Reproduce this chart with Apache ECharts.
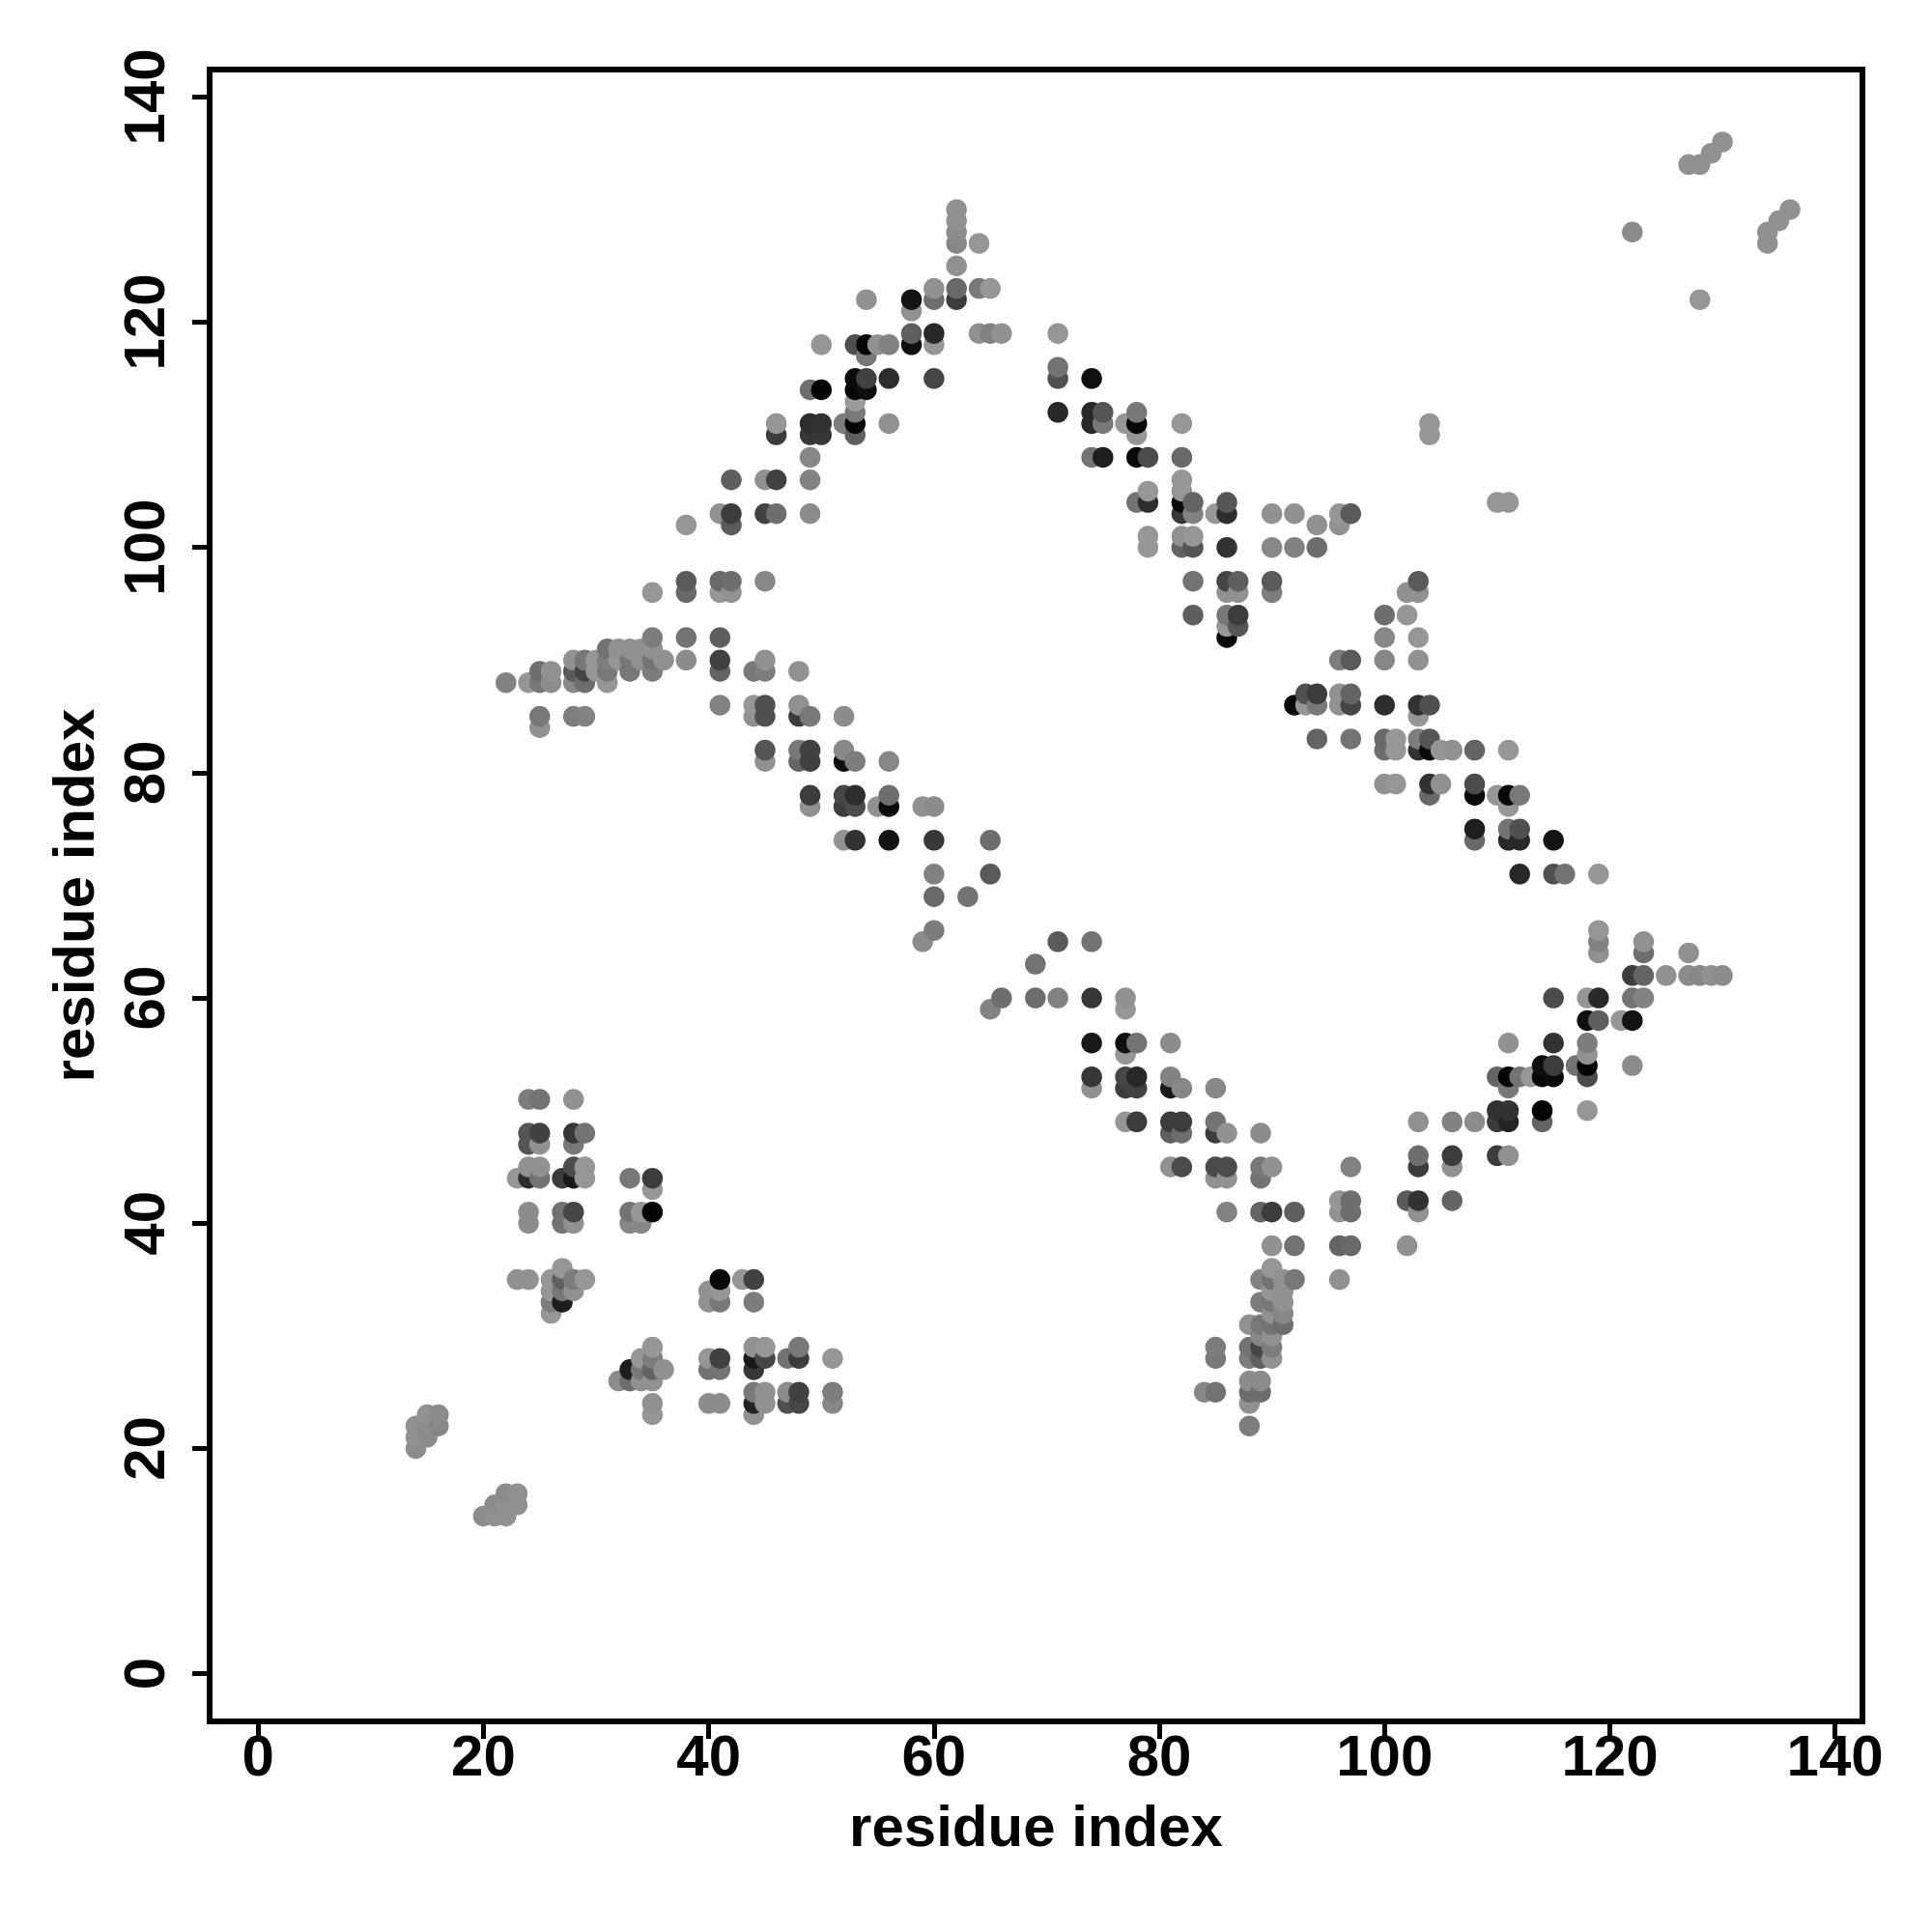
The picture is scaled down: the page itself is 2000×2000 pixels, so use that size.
<!DOCTYPE html>
<html>
<head>
<meta charset="utf-8">
<style>html,body{margin:0;padding:0;background:#fff}#chart{width:2000px;height:2000px}</style>
<script src="https://cdn.jsdelivr.net/npm/echarts@6/dist/echarts.min.js"></script>
</head>
<body>
<div id="chart"></div>
<script>
// Each contact: [residue x, residue y, grey level]
const tickValues = [0, 20, 40, 60, 80, 100, 120, 140];
const axisTitle = 'residue index';

const bottomLeftContacts = [
  [14,20,140],[14,21,145],[14,22,145],[15,21,140],[15,22,140],[15,23,145],[16,22,135],[16,23,140],
  [20,14,140],[21,14,145],[21,15,140],[22,14,145],[22,15,145],[22,16,140],[23,15,145],[23,16,145]
];
const crossContactsA = [
  [23,35,145],[24,35,145],[26,35,150],[26,34,150],[26,33,125],[26,32,150],[27,36,150],[27,35,95],[27,34,120],[27,33,30],[28,35,125],[28,34,145],[29,35,150],
  [32,26,140],[33,27,30],[33,26,110],[34,28,150],[34,27,120],[34,26,145],[35,29,150],[35,28,125],[35,27,100],[35,26,145],[35,24,145],[35,23,150],[36,27,145],
  [40,34,145],[40,33,145],[40,28,150],[40,27,115],[40,24,140],[41,35,8],[41,34,150],[41,33,120],[41,28,65],[41,27,115],[41,24,140],
  [43,35,150],[44,35,65],[44,33,125],[44,29,145],[44,28,25],[44,27,55],[44,25,120],[44,24,35],[44,23,145],[45,29,150],[45,28,70],[45,25,145],[45,24,145],
  [47,28,115],[47,25,140],[47,24,80],[48,29,120],[48,28,60],[48,25,65],[48,24,70],[51,28,150],[51,25,125],[51,24,135]
];
const crossContactsB = [
  [23,44,150],[24,51,125],[24,48,85],[24,47,85],[24,45,145],[24,44,45],[24,41,140],[24,40,140],
  [25,51,115],[25,48,65],[25,47,145],[25,45,145],[25,44,115],
  [27,44,60],[27,41,115],[27,40,115],[28,51,145],[28,48,55],[28,47,120],[28,45,75],[28,44,25],[28,41,70],[28,40,145],[29,48,115],[29,45,150],[29,44,150],
  [33,44,120],[33,41,115],[33,40,135],[34,41,150],[34,40,135],[35,44,60],[35,43,150],[35,41,5]
];
const sheetContactsLeft = [
  [22,88,130],[24,88,150],[25,89,110],[25,88,120],[25,85,120],[25,84,145],[26,89,145],[26,88,140],
  [28,90,145],[28,89,90],[28,88,135],[28,85,125],[29,90,120],[29,89,70],[29,88,110],[29,85,130],
  [30,90,150],[30,89,150],[31,91,115],[31,90,125],[31,89,120],[31,88,150],[32,91,145],[32,90,150],
  [33,91,145],[33,90,120],[33,89,120],[34,91,145],[34,90,145],[35,96,150],[35,92,125],[35,91,145],[35,90,115],[35,89,125],[36,90,145],
  [38,92,115],[38,90,140],[41,92,95],[41,90,65],[41,89,100],[41,86,130],
  [44,89,120],[44,86,150],[44,85,145],[45,90,145],[45,89,125],[45,86,80],[45,85,80],[45,82,85],[45,81,145],
  [48,89,145],[48,86,145],[48,85,60],[48,82,120],[48,81,100],[49,85,120],[49,82,65],[49,81,65],[49,78,60],[49,77,145],
  [52,85,140],[52,82,135],[52,81,15],[52,78,70],[52,77,60],[52,74,145],[53,81,125],[53,78,45],[53,77,75],[53,74,50],
  [55,77,145],[56,81,135],[56,78,110],[56,77,10],[56,74,20],[59,77,145],[59,65,140],
  [60,77,140],[60,74,55],[60,71,130],[60,69,105],[60,66,125],[63,69,115],[65,74,110],[65,71,90]
];
const sheetContactsTop = [
  [38,102,150],[38,97,90],[38,96,105],[41,103,145],[41,97,105],[41,96,150],[42,106,95],[42,103,60],[42,102,90],[42,97,110],[42,96,145],
  [45,106,145],[45,103,65],[45,97,135],[46,111,150],[46,110,60],[46,106,65],[46,103,110],
  [49,114,110],[49,111,45],[49,110,55],[49,108,135],[49,106,130],[49,103,140],[50,118,150],[50,114,5],[50,111,50],[50,110,55],[52,111,125],
  [53,118,80],[53,115,10],[53,114,5],[53,113,155],[53,112,120],[53,111,5],[53,110,95],
  [54,122,145],[54,118,5],[54,117,120],[54,115,65],[54,114,15],[55,118,145],[56,118,130],[56,115,45],[56,111,145],
  [58,122,20],[58,121,145],[58,119,95],[58,118,15],[60,123,145],[60,122,110],[60,119,40],[60,118,150],[60,115,70],
  [62,130,145],[62,129,145],[62,128,140],[62,127,135],[62,125,145],[62,123,105],[62,122,60],
  [64,127,150],[64,123,120],[64,119,145],[65,123,150],[65,119,130],[66,119,145]
];
const sheetContactsUpperRight = [
  [71,119,150],[71,116,115],[71,115,80],[71,112,40],[74,115,15],[74,112,40],[74,111,40],[74,108,115],[75,112,85],[75,111,120],[75,108,30],
  [77,111,150],[78,112,120],[78,111,8],[78,110,150],[78,108,10],[78,104,115],[79,108,75],[79,105,150],[79,104,45],[79,101,150],[79,100,150],
  [82,111,150],[82,108,105],[82,106,150],[82,105,150],[82,104,10],[82,103,55],[82,101,145],[82,100,100],
  [83,104,100],[83,103,130],[83,101,150],[83,100,85],[83,97,115],[83,94,95],[85,103,150],
  [86,104,85],[86,103,45],[86,100,50],[86,97,70],[86,96,145],[86,94,120],[86,93,150],[86,92,10],[87,97,95],[87,96,145],[87,94,60],[87,93,85],
  [90,103,145],[90,100,135],[90,97,90],[90,96,125],[92,103,145],[92,100,130],[94,102,145],[94,100,110],[96,103,150],[96,102,145],[97,103,90],
  [104,111,150],[104,110,150],[110,104,150],[111,104,150]
];
const sheetContactsRight = [
  [92,86,10],[93,87,80],[93,86,150],[94,87,60],[94,86,120],[94,83,100],[96,90,125],[96,87,145],[96,86,145],[97,90,90],[97,87,100],[97,86,70],[97,83,115],
  [100,94,110],[100,92,135],[100,90,135],[100,86,45],[100,83,105],[100,82,110],[100,79,145],[101,83,150],[101,82,150],[101,79,150],
  [102,96,145],[102,94,150],[103,97,90],[103,96,145],[103,92,150],[103,90,145],[103,86,50],[103,85,150],[103,83,125],[103,82,50],
  [104,86,80],[104,83,85],[104,82,10],[104,79,50],[104,78,105],[105,82,150],[105,79,145],[106,82,145],
  [108,82,100],[108,79,75],[108,78,10],[108,75,30],[108,74,105],[110,78,150],
  [111,82,150],[111,78,8],[111,77,150],[111,75,115],[111,74,40],[112,78,120],[112,75,80],[112,74,40],[112,71,40],
  [115,74,20],[115,71,80],[116,71,115],[119,71,150]
];
const lowerBandContacts = [
  [65,59,130],[66,60,110],[69,63,115],[69,60,110],[71,65,90],[71,60,130],[74,65,115],[74,60,55],[74,56,25],[74,53,55],[74,52,145],
  [77,60,145],[77,59,150],[77,56,15],[77,55,150],[77,53,70],[77,52,60],[77,49,150],[78,56,115],[78,53,40],[78,52,65],[78,49,60],
  [81,56,140],[81,53,130],[81,52,25],[81,49,60],[81,48,95],[81,45,145],[82,52,135],[82,49,60],[82,48,110],[82,45,75],
  [85,52,135],[85,49,115],[85,48,60],[85,45,75],[85,44,145],[86,48,145],[86,45,75],[86,44,145],[86,41,130],
  [89,48,140],[89,45,120],[89,44,115],[89,41,100],[90,45,145],[90,41,60],[90,38,145],[92,41,95],[92,38,115],
  [96,42,150],[96,41,145],[96,38,100],[96,35,145],[97,45,130],[97,42,110],[97,41,110],[97,38,105],[102,42,90],[102,38,145]
];
const denseClusterContacts = [
  [84,25,135],[85,29,125],[85,28,120],[85,25,115],
  [88,31,145],[88,29,115],[88,28,125],[88,26,140],[88,25,110],[88,24,145],[88,22,125],
  [89,35,130],[89,33,125],[89,31,120],[89,30,135],[89,29,70],[89,28,95],[89,26,140],[89,25,110],
  [90,36,150],[90,35,115],[90,34,150],[90,33,120],[90,32,145],[90,31,115],[90,30,145],[90,29,125],[90,28,145],
  [91,35,145],[91,34,145],[91,33,145],[91,32,135],[91,31,110],[92,35,120]
];
const lowerRightContacts = [
  [103,49,145],[103,46,110],[103,45,60],[103,42,50],[103,41,145],[106,49,130],[106,46,60],[106,45,145],[106,42,100],[108,49,140],
  [110,53,100],[110,50,50],[110,49,60],[110,46,60],[111,56,145],[111,53,5],[111,52,120],[111,50,50],[111,49,35],[111,46,145],[112,53,115],[113,53,150],
  [114,54,15],[114,53,5],[114,50,5],[114,49,100],[115,60,75],[115,56,50],[115,54,60],[115,53,10],[117,54,115],
  [118,60,150],[118,58,15],[118,56,125],[118,55,145],[118,54,5],[118,53,75],[118,50,150],
  [119,66,150],[119,65,130],[119,64,145],[119,60,40],[119,58,95],[121,58,150],[122,62,60],[122,60,115],[122,58,20],[122,54,140],
  [123,65,145],[123,64,110],[123,62,100],[123,60,130],[125,62,145],[127,64,145],[127,62,140],[128,62,135],[129,62,145],[130,62,140]
];
const topRightContacts = [
  [122,128,140],[128,122,150],[127,134,145],[128,134,145],[129,135,145],[130,136,145],[134,128,145],[134,127,145],[135,129,145],[136,130,145]
];

const contacts = [].concat(
  bottomLeftContacts, crossContactsA, crossContactsB, sheetContactsLeft, sheetContactsTop,
  sheetContactsUpperRight, sheetContactsRight, lowerBandContacts, denseClusterContacts,
  lowerRightContacts, topRightContacts
).sort((a, b) => a[0] - b[0] || a[1] - b[1]);

const font = '"Liberation Sans", Arial, sans-serif';
const chart = echarts.init(document.getElementById('chart'), null, { renderer: 'canvas' });
chart.setOption({
  animation: false,
  backgroundColor: '#ffffff',
  grid: { left: 217, right: 72, top: 72, bottom: 218, show: true, borderColor: '#000', borderWidth: 6, backgroundColor: 'transparent', z: 5 },
  xAxis: {
    type: 'value', min: -4.31, max: 142.43,
    axisLine: { show: false, onZero: false },
    splitLine: { show: false },
    axisTick: { show: true, length: 18, inside: false, lineStyle: { color: '#000', width: 5 }, customValues: tickValues },
    axisLabel: { show: true, customValues: tickValues, color: '#000', fontFamily: font, fontWeight: 'bold', fontSize: 60, margin: 9, formatter: v => String(v) },
    name: axisTitle, nameLocation: 'middle', nameGap: 82,
    nameTextStyle: { color: '#000', fontFamily: font, fontWeight: 'bold', fontSize: 60 }
  },
  yAxis: {
    type: 'value', min: -4.23, max: 142.43,
    axisLine: { show: false, onZero: false },
    splitLine: { show: false },
    axisTick: { show: true, length: 18, inside: false, lineStyle: { color: '#000', width: 5 }, customValues: tickValues },
    axisLabel: { show: true, customValues: tickValues, rotate: 90, color: '#000', fontFamily: font, fontWeight: 'bold', fontSize: 60, margin: 34, formatter: v => String(v) },
    name: axisTitle, nameLocation: 'middle', nameGap: 107, nameRotate: 90,
    nameTextStyle: { color: '#000', fontFamily: font, fontWeight: 'bold', fontSize: 60 }
  },
  series: [{
    type: 'scatter',
    symbol: 'circle',
    symbolSize: 21.5,
    silent: true,
    data: contacts.map(c => ({ value: [c[0], c[1]], itemStyle: { color: `rgb(${c[2]},${c[2]},${c[2]})`, opacity: 1 } }))
  }]
});
</script>
</body>
</html>
